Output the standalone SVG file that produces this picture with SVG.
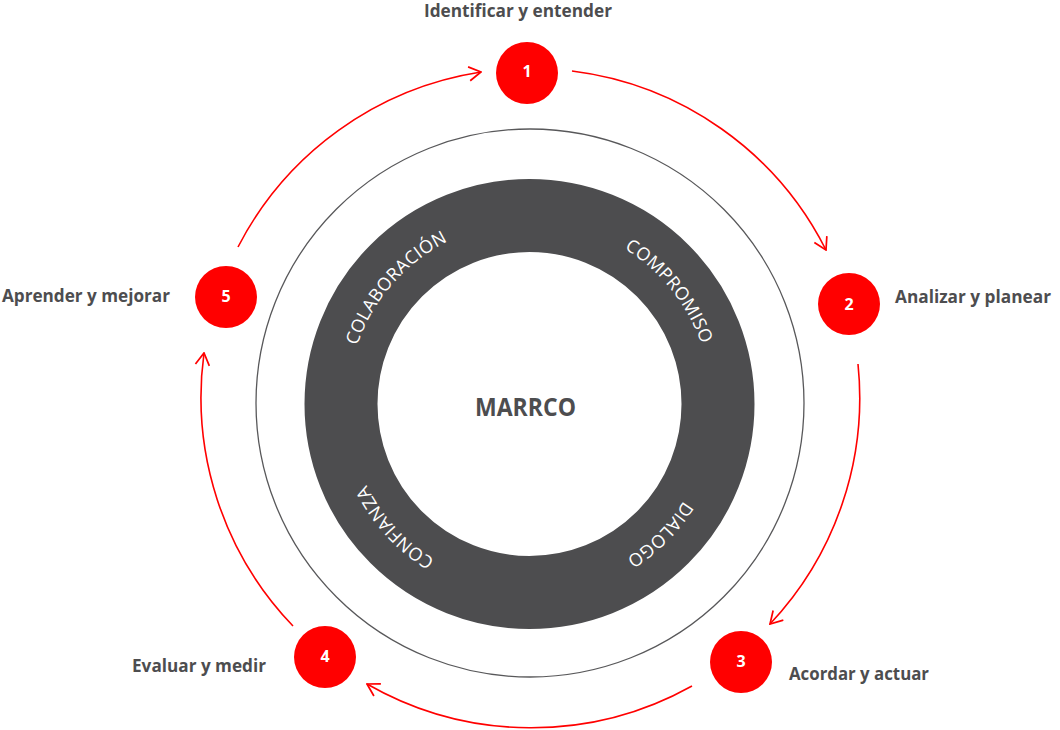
<svg xmlns="http://www.w3.org/2000/svg" width="1060" height="730" viewBox="0 0 1060 730">
<style>
.lbl{font-family:"Open Sans","Noto Sans","Liberation Sans",sans-serif;font-weight:700;font-size:17.5px;fill:#4d4d4f}
.num{font-family:"Open Sans","Noto Sans","Liberation Sans",sans-serif;font-weight:700;font-size:16px;fill:#ffffff;text-anchor:middle}
.node{fill:#ff0000}
.ring{font-family:"Open Sans","Noto Sans","Liberation Sans",sans-serif;font-weight:400;font-size:18px;fill:#ffffff;letter-spacing:0.3px}
.conn{fill:none;stroke:#ff0000;stroke-width:1.6}
</style>
<defs>
<marker id="arr" viewBox="0 0 14 16" refX="13" refY="8" markerWidth="14" markerHeight="16" markerUnits="userSpaceOnUse" orient="auto">
<path d="M1,1 L13,8 L1,15" fill="none" stroke="#ff0000" stroke-width="1.7"/>
</marker>
<path id="tp" d="M711.5,404 A182,182 0 1 1 347.5,404 A182,182 0 1 1 711.5,404"/>
</defs>
<rect width="1060" height="730" fill="#ffffff"/>
<g id="frame">
<circle cx="530" cy="403" r="274" fill="none" stroke="#58585a" stroke-width="1.3"/>
</g>
<g id="ring">
<circle cx="529.5" cy="404" r="188.5" fill="none" stroke="#4d4d4f" stroke-width="73"/>
<text class="ring" text-anchor="middle"><textPath href="#tp" startOffset="61.4%">COLABORACIÓN</textPath></text>
<text class="ring" text-anchor="middle"><textPath href="#tp" startOffset="89.2%">COMPROMISO</textPath></text>
<text class="ring" text-anchor="middle"><textPath href="#tp" startOffset="12.5%">DIALOGO</textPath></text>
<text class="ring" text-anchor="middle"><textPath href="#tp" startOffset="38.2%">CONFIANZA</textPath></text>
</g>
<g id="center">
<text x="525.5" y="416" text-anchor="middle" style="font-family:'Open Sans','Noto Sans','Liberation Sans',sans-serif;font-weight:700;font-size:25px;fill:#4d4d4f" textLength="101" lengthAdjust="spacingAndGlyphs">MARRCO</text>
</g>
<g id="connectors">
<path class="conn" d="M572,71 A330,330 0 0 1 826,250" marker-end="url(#arr)"/>
<path class="conn" d="M858,364 A330,330 0 0 1 770,624" marker-end="url(#arr)"/>
<path class="conn" d="M692,686 A330,330 0 0 1 367,684" marker-end="url(#arr)"/>
<path class="conn" d="M293,626 A330,330 0 0 1 204,353" marker-end="url(#arr)"/>
<path class="conn" d="M238,247 A330,330 0 0 1 481,72" marker-end="url(#arr)"/>
</g>
<g id="step1">
<circle class="node" cx="527" cy="73" r="31"/>
<text class="num" x="527" y="77">1</text>
<text class="lbl" x="424" y="17" textLength="188" lengthAdjust="spacingAndGlyphs">Identificar y entender</text>
</g>
<g id="step2">
<circle class="node" cx="849" cy="304" r="31"/>
<text class="num" x="849" y="310">2</text>
<text class="lbl" x="895" y="303" textLength="156" lengthAdjust="spacingAndGlyphs">Analizar y planear</text>
</g>
<g id="step3">
<circle class="node" cx="741" cy="662" r="31"/>
<text class="num" x="741" y="667">3</text>
<text class="lbl" x="789" y="680" textLength="140" lengthAdjust="spacingAndGlyphs">Acordar y actuar</text>
</g>
<g id="step4">
<circle class="node" cx="325" cy="657" r="31"/>
<text class="num" x="325" y="662">4</text>
<text class="lbl" x="132" y="672" textLength="134" lengthAdjust="spacingAndGlyphs">Evaluar y medir</text>
</g>
<g id="step5">
<circle class="node" cx="226" cy="297" r="31"/>
<text class="num" x="226" y="302">5</text>
<text class="lbl" x="2" y="302" textLength="168" lengthAdjust="spacingAndGlyphs">Aprender y mejorar</text>
</g>
</svg>
